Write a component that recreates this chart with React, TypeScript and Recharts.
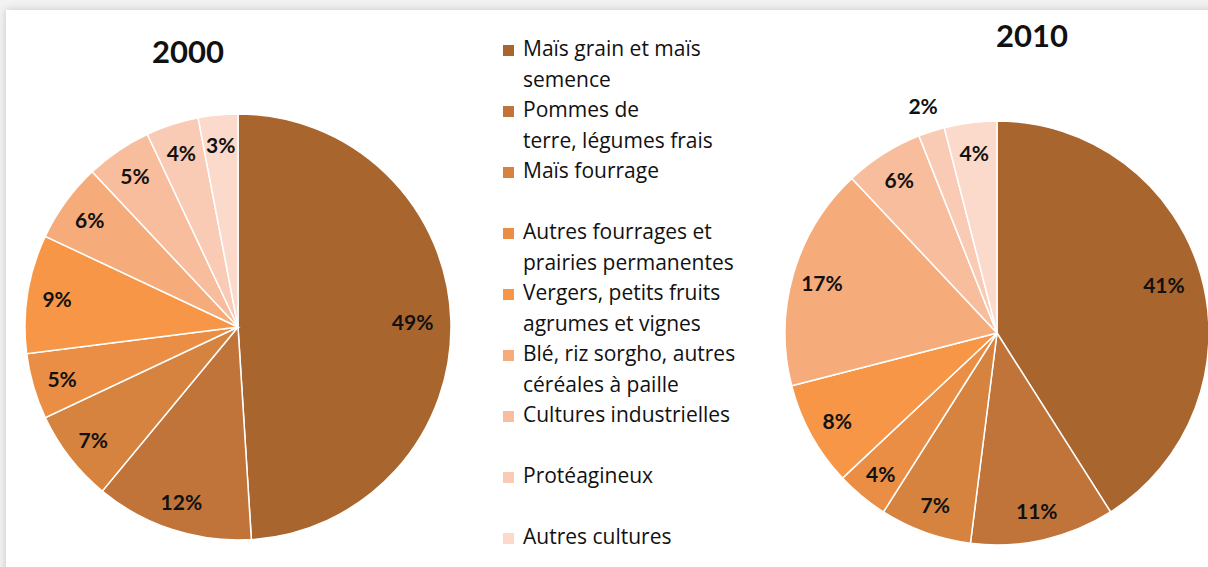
import React from 'react';
import { PieChart, Pie, Cell, Legend } from 'recharts';

const categories = [
  'Maïs grain et maïs semence',
  'Pommes de terre, légumes frais',
  'Maïs fourrage',
  'Autres fourrages et prairies permanentes',
  'Vergers, petits fruits agrumes et vignes',
  'Blé, riz sorgho, autres céréales à paille',
  'Cultures industrielles',
  'Protéagineux',
  'Autres cultures',
];

// how Excel wrapped the legend entries
const legendLines = [
  ['Maïs grain et maïs', 'semence'],
  ['Pommes de', 'terre, légumes frais'],
  ['Maïs fourrage'],
  ['Autres fourrages et', 'prairies permanentes'],
  ['Vergers, petits fruits', 'agrumes et vignes'],
  ['Blé, riz sorgho, autres', 'céréales à paille'],
  ['Cultures industrielles'],
  ['Protéagineux'],
  ['Autres cultures'],
];

const values2000 = [49, 12, 7, 5, 9, 6, 5, 4, 3];
const values2010 = [41, 11, 7, 4, 8, 17, 6, 2, 4];

const colors = [
  '#A9652E',
  '#C1743A',
  '#D5833F',
  '#EA8E45',
  '#F79646',
  '#F6AB7A',
  '#F8BD9C',
  '#F9CBB5',
  '#FBDACB',
];

const years = ['2000', '2010'];

const data2000 = categories.map((name, i) => ({ name, value: values2000[i] }));
const data2010 = categories.map((name, i) => ({ name, value: values2010[i] }));

const RADIAN = Math.PI / 180;
const font = 'Lato, "Open Sans", sans-serif';

const renderLabel = (props: any) => {
  const { cx, cy, midAngle, outerRadius, value } = props;
  // small slices get their label outside, the big one sits a bit further in
  let r = outerRadius * 0.86;
  if (value < 3) r = outerRadius + 27;
  else if (value > 30) r = outerRadius * 0.82;
  const x = cx + r * Math.cos(-midAngle * RADIAN);
  const y = cy + r * Math.sin(-midAngle * RADIAN);
  return (
    <text
      x={x}
      y={y}
      fill="#111"
      textAnchor="middle"
      dominantBaseline="central"
      fontFamily={font}
      fontWeight="bold"
      fontSize={21}
    >
      {`${value}%`}
    </text>
  );
};

const LegendBox = () => (
  <div style={{ fontFamily: '"Open Sans", sans-serif', fontSize: 21, color: '#111' }}>
    {legendLines.map((lines, i) => (
      <div key={i} style={{ height: 61, position: 'relative' }}>
        <div
          style={{
            position: 'absolute',
            left: 0,
            top: 12,
            width: 11,
            height: 11,
            background: colors[i],
          }}
        />
        <div style={{ position: 'absolute', left: 20, top: 0, lineHeight: '30.5px', whiteSpace: 'nowrap' }}>
          {lines.map((l, j) => (
            <div key={j}>{l}</div>
          ))}
        </div>
      </div>
    ))}
  </div>
);

export default function App() {
  return (
    <div style={{ position: 'absolute', top: 0, left: 0, width: 1208, height: 567, background: '#f2f2f2', overflow: 'hidden' }}>
      <div
        style={{
          position: 'absolute',
          top: 10,
          left: 6,
          width: 1220,
          height: 570,
          background: '#fff',
          boxShadow: '0 0 8px rgba(0,0,0,0.18)',
        }}
      />
      <div style={{ position: 'absolute', top: 32, left: 152, fontFamily: font, fontWeight: 'bold', fontSize: 31, color: '#111' }}>
        {years[0]}
      </div>
      <div style={{ position: 'absolute', top: 16, left: 996, fontFamily: font, fontWeight: 'bold', fontSize: 31, color: '#111' }}>
        {years[1]}
      </div>
      <div style={{ position: 'absolute', top: 0, left: 0 }}>
        <PieChart width={1208} height={567} margin={{ top: 0, right: 0, bottom: 0, left: 0 }}>
          <Pie
            data={data2000}
            dataKey="value"
            nameKey="name"
            cx={238}
            cy={327}
            outerRadius={213}
            startAngle={90}
            endAngle={-270}
            stroke="#fff"
            strokeWidth={1.5}
            label={renderLabel}
            labelLine={false}
            isAnimationActive={false}
          >
            {data2000.map((_, i) => (
              <Cell key={i} fill={colors[i]} />
            ))}
          </Pie>
          <Pie
            data={data2010}
            dataKey="value"
            nameKey="name"
            cx={997}
            cy={333}
            outerRadius={212}
            startAngle={90}
            endAngle={-270}
            stroke="#fff"
            strokeWidth={1.5}
            label={renderLabel}
            labelLine={false}
            legendType="none"
            isAnimationActive={false}
          >
            {data2010.map((_, i) => (
              <Cell key={i} fill={colors[i]} />
            ))}
          </Pie>
          <Legend
            content={<LegendBox />}
            wrapperStyle={{ position: 'absolute', left: 503, top: 33, width: 260 }}
          />
        </PieChart>
      </div>
    </div>
  );
}
